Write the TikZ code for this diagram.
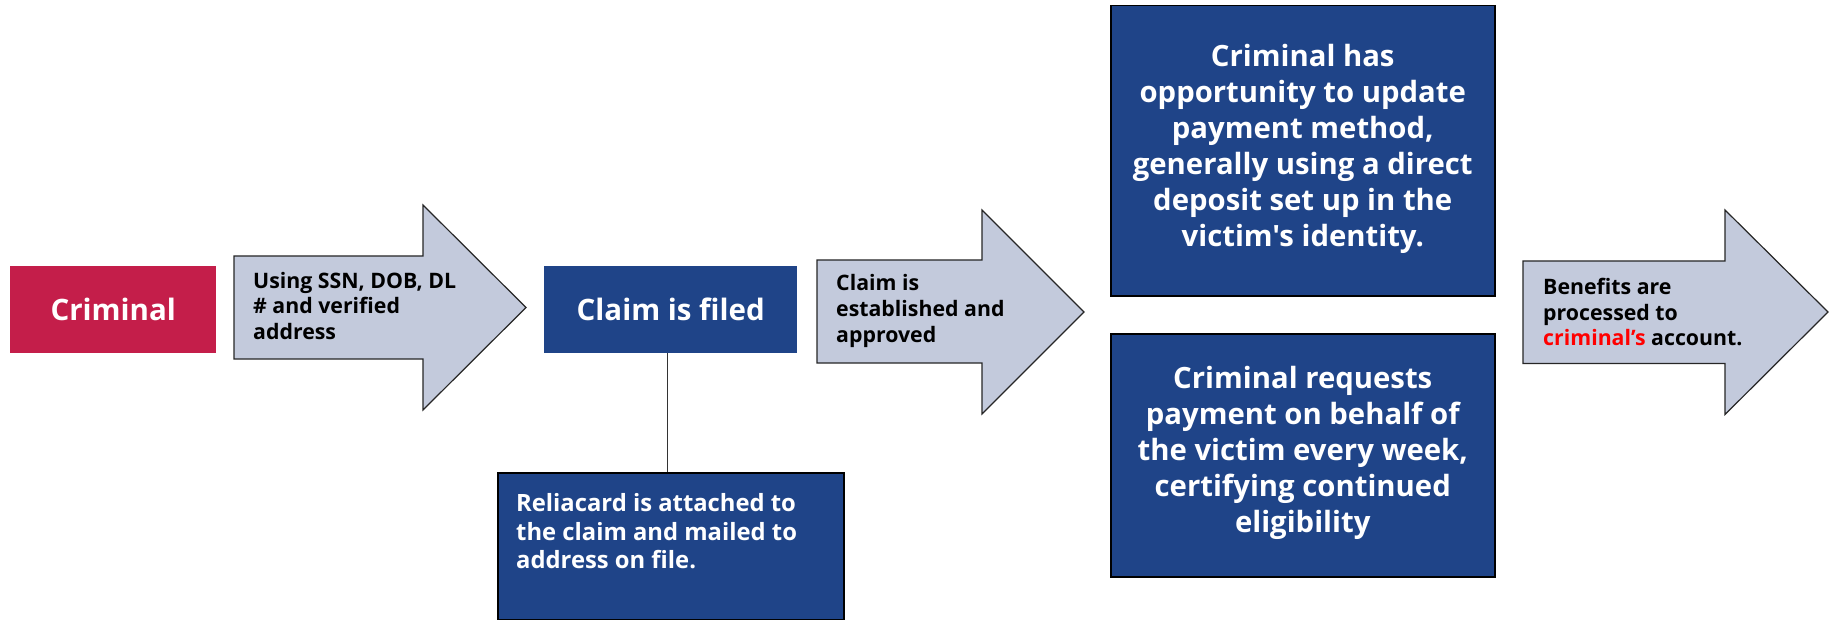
\documentclass[tikz,border=0pt]{standalone}
\usepackage{fontspec}
\setmainfont{Open Sans}[Ligatures=TeXOff]
\definecolor{crim}{HTML}{C41E4A}
\definecolor{navy}{HTML}{1F4488}
\definecolor{arrowfill}{HTML}{C3CADC}
\definecolor{redtxt}{HTML}{FF0000}
\begin{document}
\begin{tikzpicture}[x=1pt,y=-1pt,
  bluebox/.style={fill=navy, inner sep=0pt, anchor=north west},
  framed/.style={draw=black, line width=1.5pt},
  arrowshape/.style={fill=arrowfill, draw=black!85, line width=1.2pt, line join=miter},
  arrowtext/.style={anchor=west, align=left, inner sep=0pt, font=\bfseries\fontsize{21.3}{25.8}\selectfont},
  bigtext/.style={text=white, align=center, font=\bfseries\fontsize{29.3}{36}\selectfont},
  headtext/.style={text=white, font=\bfseries\fontsize{29.5}{34}\selectfont}
]
\useasboundingbox (0,0) rectangle (1835,620);

% Criminal
\node[bluebox, fill=crim, minimum width=206pt, minimum height=87pt] (crim) at (10,266) {};
\node[headtext] (crimt) at (crim.center) {Criminal};

% Arrow 1
\draw[arrowshape] (234,256) -- (423,256) -- (423,205) -- (526,307.5) -- (423,410) -- (423,359) -- (234,359) -- cycle;
\node[arrowtext] (a1) at (253,306) {Using SSN, DOB, DL\\\# and verified\\address};

% Claim is filed
\node[bluebox, minimum width=253pt, minimum height=87pt] (claim) at (544,266) {};
\node[headtext] (claimt) at (claim.center) {Claim is filed};

% Reliacard
\node[bluebox, framed, minimum width=346pt, minimum height=147pt] (relia) at (497,472) {};
\node[anchor=north west, inner sep=0pt, text=white, align=left, font=\bfseries\fontsize{23.8}{28.8}\selectfont] (reliat) at (516,493) {Reliacard is attached to\\the claim and mailed to\\address on file.};
\coordinate (lk) at ([xshift=-3.5pt]claim.south);
\draw[black!80, line width=1.2pt] (lk) -- (lk |- relia.north);

% Arrow 2
\draw[arrowshape] (817,260) -- (982,260) -- (982,210) -- (1084,312) -- (982,414) -- (982,363) -- (817,363) -- cycle;
\node[arrowtext] (a2) at (836,311) {Claim is\\established and\\approved};

% Top right box
\node[bluebox, framed, minimum width=384pt, minimum height=290pt] (top) at (1110,5) {};
\node[bigtext] (topt) at ([yshift=2pt]top.center) {Criminal has\\opportunity to update\\payment method,\\generally using a direct\\deposit set up in the\\victim's identity.};

% Bottom right box
\node[bluebox, framed, minimum width=384pt, minimum height=243pt] (bot) at (1110,333) {};
\node[bigtext] (bott) at ([yshift=2pt]bot.center) {Criminal requests\\payment on behalf of\\the victim every week,\\certifying continued\\eligibility};

% Arrow 3
\draw[arrowshape] (1523,261) -- (1725,261) -- (1725,210) -- (1828,312) -- (1725,414.5) -- (1725,363.5) -- (1523,363.5) -- cycle;
\node[arrowtext] (a3) at (1543,312) {Benefits are\\processed to\\\textcolor{redtxt}{criminal’s} account.};
\end{tikzpicture}
\end{document}
